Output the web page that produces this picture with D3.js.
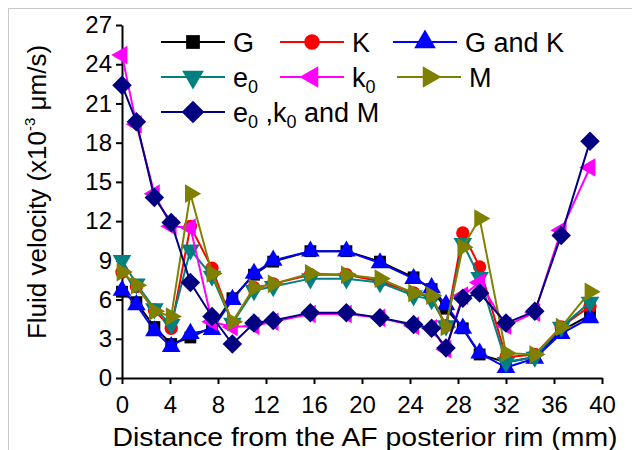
<!DOCTYPE html>
<html><head><meta charset="utf-8">
<script src="https://cdn.jsdelivr.net/npm/d3@7"></script>
<style>body{margin:0;background:#fff}svg{display:block}text{font-family:"Liberation Sans",Arial,sans-serif}</style>
</head><body>
<script>
const xs = [0, 1.2, 2.7, 4.1, 5.7, 7.5, 9.2, 11, 12.6, 15.7, 18.7, 21.5, 24.3, 25.8, 27, 28.4, 29.8, 32, 34.4, 36.6, 39];
const G  = [6.6, 5.8, 3.9, 2.6, 3.1, 3.9, 6.1, 7.9, 8.9, 9.7, 9.7, 8.9, 7.7, 6.8, 5.3, 3.8, 1.8, 1.2, 1.6, 3.6, 4.8];
const K  = [8.1, 7.0, 5.2, 3.8, 11.6, 8.4, 4.2, 6.9, 7.2, 7.9, 7.9, 7.4, 6.5, 6.2, 4.0, 11.1, 8.5, 1.6, 1.8, 3.9, 5.5];
const GK = [6.7, 5.6, 3.6, 2.4, 3.4, 3.7, 6.0, 8.0, 9.0, 9.7, 9.7, 8.8, 7.6, 6.9, 5.6, 3.8, 1.9, 0.8, 1.5, 3.4, 4.6];
const E0 = [9.0, 7.2, 5.3, 4.1, 9.8, 7.8, 4.2, 6.7, 7.0, 7.6, 7.6, 7.3, 6.3, 6.0, 4.0, 10.3, 7.7, 1.2, 1.6, 3.9, 5.8];
const K0 = [24.7, 19.4, 14.1, 11.6, 11.5, 4.3, 3.9, 4.0, 4.3, 4.9, 4.9, 4.6, 4.0, 3.8, 2.2, 6.3, 7.3, 4.0, 5.0, 11.3, 16.1];
const M  = [8.1, 7.1, 5.1, 4.7, 14.1, 8.0, 4.3, 6.9, 7.2, 8.0, 7.9, 7.6, 6.5, 6.3, 3.9, 10.0, 12.2, 1.9, 1.8, 3.9, 6.6];
const EKM = [22.4, 19.6, 13.8, 11.9, 7.3, 4.7, 2.6, 4.2, 4.4, 5.0, 5.0, 4.6, 4.1, 3.8, 2.3, 6.1, 6.5, 4.2, 5.1, 10.9, 18.1];
const xTicks = [0, 4, 8, 12, 16, 20, 24, 28, 32, 36, 40];
const yTicks = [0, 3, 6, 9, 12, 15, 18, 21, 24, 27];

const series = [
  {name: "G", values: G, color: "#000000", sym: d3.symbolSquare, size: 140, rot: 0},
  {name: "K", values: K, color: "#ff0000", sym: d3.symbolCircle, size: 140, rot: 0},
  {name: "G and K", values: GK, color: "#0000ff", sym: d3.symbolTriangle, size: 150, rot: 0},
  {name: "e0", values: E0, color: "#008080", sym: d3.symbolTriangle, size: 150, rot: 180},
  {name: "k0", values: K0, color: "#ff00ff", sym: d3.symbolTriangle, size: 150, rot: -90},
  {name: "M", values: M, color: "#808000", sym: d3.symbolTriangle, size: 150, rot: 90},
  {name: "e0,k0 and M", values: EKM, color: "#000080", sym: d3.symbolSquare, size: 190, rot: 45}
];

const W = 632, H = 450;
const svg = d3.select("body").append("svg").attr("width", W).attr("height", H);
svg.append("line").attr("x1", 8).attr("x2", W).attr("y1", 8.5).attr("y2", 8.5).attr("stroke", "#c8c8c8");
svg.append("line").attr("x1", 8.5).attr("x2", 8.5).attr("y1", 8).attr("y2", H).attr("stroke", "#c8c8c8");

const x = d3.scaleLinear().domain([0, 40]).range([122, 602]);
const y = d3.scaleLinear().domain([0, 27]).range([378, 25]);

const xAxis = svg.append("g").attr("transform", "translate(0,378)")
  .call(d3.axisBottom(x).tickValues(xTicks).tickSize(6).tickPadding(12).tickSizeOuter(0));
const yAxis = svg.append("g").attr("transform", "translate(122,0)")
  .call(d3.axisLeft(y).tickValues(yTicks).tickSize(6).tickPadding(4).tickSizeOuter(0));
[xAxis, yAxis].forEach(a => {
  a.selectAll("path,line").attr("stroke", "#000").attr("stroke-width", 2);
  a.selectAll("text").attr("font-size", 24).attr("fill", "#000").attr("font-family", '"Liberation Sans",Arial,sans-serif');
});

svg.append("text").attr("x", 365).attr("y", 446).attr("text-anchor", "middle")
  .attr("font-size", 25).attr("textLength", 505).attr("lengthAdjust", "spacingAndGlyphs")
  .text("Distance from the AF posterior rim (mm)");

const yl = svg.append("text").attr("transform", "translate(46,192) rotate(-90)")
  .attr("text-anchor", "middle").attr("font-size", 26);
yl.append("tspan").text("Fluid velocity (x10");
yl.append("tspan").attr("font-size", 15).attr("dy", -11).text("-3");
yl.append("tspan").attr("dy", 11).text(" \u03bcm/s)");

const line = d3.line().x(d => x(d[0])).y(d => y(d[1]));
series.forEach(s => {
  const pts = xs.map((v, i) => [v, s.values[i]]);
  const g = svg.append("g");
  g.append("path").attr("d", line(pts)).attr("fill", "none").attr("stroke", s.color).attr("stroke-width", 2);
  g.selectAll("path.m").data(pts).join("path").attr("class", "m")
    .attr("d", d3.symbol(s.sym, s.size))
    .attr("transform", d => `translate(${x(d[0])},${y(d[1])}) rotate(${s.rot})`)
    .attr("fill", s.color);
});

// legend
const legend = [
  {s: 0, lx: 161, ty: 52, label: ["G"]},
  {s: 1, lx: 280, ty: 52, label: ["K"]},
  {s: 2, lx: 393, ty: 52, label: ["G and K"]},
  {s: 3, lx: 161, ty: 87, label: ["e", "0"]},
  {s: 4, lx: 280, ty: 87, label: ["k", "0"]},
  {s: 5, lx: 397, ty: 87, label: ["M"]},
  {s: 6, lx: 161, ty: 122, label: ["e", "0", " ,k", "0", " and M"]}
];
legend.forEach(l => {
  const s = series[l.s];
  const cy = l.ty - 10;
  svg.append("line").attr("x1", l.lx).attr("x2", l.lx + 64).attr("y1", cy).attr("y2", cy)
    .attr("stroke", s.color).attr("stroke-width", 2);
  svg.append("path").attr("d", d3.symbol(s.sym, s.size * 1.35))
    .attr("transform", `translate(${l.lx + 32},${cy}) rotate(${s.rot})`).attr("fill", s.color);
  const t = svg.append("text").attr("x", l.lx + 72).attr("y", l.ty).attr("font-size", 27);
  l.label.forEach((p, i) => {
    const sub = i % 2 === 1;
    t.append("tspan").attr("font-size", sub ? 18 : 27).attr("dy", sub ? 6 : (i > 0 ? -6 : 0)).text(p);
  });
});
</script>
</body></html>
